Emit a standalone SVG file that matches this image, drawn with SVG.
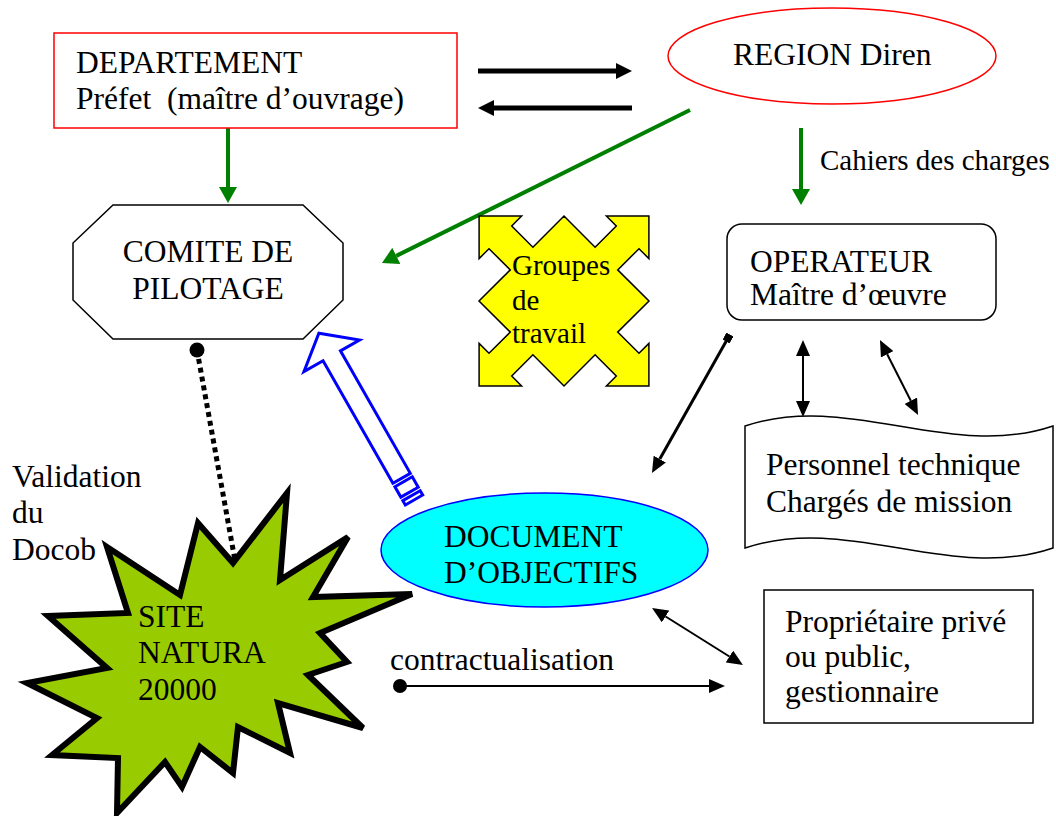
<svg xmlns="http://www.w3.org/2000/svg" width="1056" height="816" viewBox="0 0 1056 816">
<style>
text{font-family:"Liberation Serif",Tinos,"Times New Roman","DejaVu Serif","Noto Serif",serif;font-size:31.5px;fill:#000}
.sm{font-size:29px}
.green{stroke:#008000;stroke-width:4;fill:none}
.thick{stroke:#000;stroke-width:5;fill:none}
.thin{stroke:#000;stroke-width:2;fill:none}
</style>
<defs>
<marker id="gh" markerUnits="userSpaceOnUse" markerWidth="16" markerHeight="18" refX="0" refY="9" orient="auto"><path d="M0,0 L16,9 L0,18 Z" fill="#008000"/></marker>
<marker id="bh" markerUnits="userSpaceOnUse" markerWidth="16" markerHeight="16" refX="0" refY="8" orient="auto"><path d="M0,0 L16,8 L0,16 Z" fill="#000"/></marker>
<marker id="ah" markerUnits="userSpaceOnUse" markerWidth="16" markerHeight="14" refX="0" refY="7" orient="auto-start-reverse"><path d="M0,0 L16,7 L0,14 Z" fill="#000"/></marker>
<marker id="dh" markerUnits="userSpaceOnUse" markerWidth="14" markerHeight="16" refX="0" refY="8" orient="auto"><path d="M0,0 L14,8 L0,16 Z" fill="#000"/></marker>
<marker id="dot" markerUnits="userSpaceOnUse" markerWidth="16" markerHeight="16" refX="8" refY="8" orient="auto"><circle cx="8" cy="8" r="7" fill="#000"/></marker>
<marker id="sq" markerUnits="userSpaceOnUse" markerWidth="8" markerHeight="8" refX="4" refY="4" orient="auto"><rect x="0" y="0" width="8" height="8" fill="#000"/></marker>
</defs>

<g id="connectors">
<path class="thick" d="M478,71 L616,71" marker-end="url(#bh)"/>
<path class="thick" d="M632,108 L494,108" marker-end="url(#bh)"/>
<path class="green" d="M228,128 L228,187" marker-end="url(#gh)"/>
<path class="green" d="M801,128 L801,189" marker-end="url(#gh)"/>
<path class="green" d="M690,110 L396.3,255.9" marker-end="url(#gh)"/>
<path d="M197,350 L235.5,563.2" stroke="#000" stroke-width="5" stroke-dasharray="5 4" fill="none" marker-end="url(#dh)"/>
<circle cx="197" cy="350" r="7.5" fill="#000"/>
<path class="thin" d="M803,356 L803,401" marker-start="url(#ah)" marker-end="url(#ah)"/>
<path class="thin" d="M887.2,354.3 L910.8,400.7" marker-start="url(#ah)" marker-end="url(#ah)"/>
<path d="M728,338 L659.8,459.1" stroke="#000" stroke-width="3" fill="none" marker-start="url(#sq)" marker-end="url(#ah)"/>
<path class="thin" d="M665.6,616.5 L729.4,656.5" marker-start="url(#ah)" marker-end="url(#ah)"/>
<path class="thin" d="M400,686 L709,686" marker-start="url(#dot)" marker-end="url(#ah)"/>
<text class="sm" x="820" y="170">Cahiers des charges</text>
<text x="390" y="670">contractualisation</text>
<text x="12" y="487">Validation</text>
<text x="12" y="523">du</text>
<text x="12" y="560">Docob</text>
</g>

<g id="departement">
<rect x="54" y="33" width="403" height="95" fill="#fff" stroke="#ff0000" stroke-width="1.5"/>
<text x="76" y="73">DEPARTEMENT</text>
<text x="76" y="109" xml:space="preserve">Préfet  (maître d’ouvrage)</text>
</g>

<g id="region">
<ellipse cx="832" cy="56" rx="164" ry="48" fill="#fff" stroke="#ff0000" stroke-width="1.5"/>
<text x="733" y="65">REGION Diren</text>
</g>

<g id="comite">
<polygon points="113,205 303,205 343,243 343,300 303,339 113,339 73,300 73,243" fill="#fff" stroke="#000" stroke-width="1.5"/>
<text x="208" y="262" text-anchor="middle">COMITE DE</text>
<text x="208" y="299" text-anchor="middle">PILOTAGE</text>
</g>

<g id="groupes">
<polygon transform="translate(564,301)" fill="#ffff00" stroke="#000" stroke-width="1.5" points="0,-85 31.1,-53.7 52.3,-75 42.4,-84.9 84.9,-84.9 84.9,-42.4 75,-52.3 53.7,-31.1 85,0 53.7,31.1 75,52.3 84.9,42.4 84.9,84.9 42.4,84.9 52.3,75 31.1,53.7 0,85 -31.1,53.7 -52.3,75 -42.4,84.9 -84.9,84.9 -84.9,42.4 -75,52.3 -53.7,31.1 -85,0 -53.7,-31.1 -75,-52.3 -84.9,-42.4 -84.9,-84.9 -42.4,-84.9 -52.3,-75 -31.1,-53.7"/>
<text class="sm" x="512" y="275">Groupes</text>
<text class="sm" x="512" y="310">de</text>
<text class="sm" x="512" y="343">travail</text>
</g>

<g id="operateur">
<rect x="727" y="224" width="269" height="96" rx="15" ry="15" fill="#fff" stroke="#000" stroke-width="1.5"/>
<text x="750" y="272">OPERATEUR</text>
<text x="750" y="305">Maître d’œuvre</text>
</g>

<g id="personnel">
<path d="M745,426 C848,391 950,461 1053,426 L1053,548 C950,583 848,513 745,548 Z" fill="#fff" stroke="#000" stroke-width="1.5"/>
<text x="766" y="475">Personnel technique</text>
<text x="766" y="512">Chargés de mission</text>
</g>

<g id="fleche-bleue">
<g transform="translate(414,500) rotate(-119.7)" fill="#fff" stroke="#0000ff" stroke-width="3" stroke-linejoin="miter">
<rect x="0" y="-10" width="5" height="20"/>
<rect x="9" y="-10" width="12" height="20"/>
<polygon points="25,-10 166,-10 166,-32 192,0 166,32 166,10 25,10"/>
</g>
</g>

<g id="document">
<ellipse cx="544.5" cy="550" rx="163.5" ry="57" fill="#00ffff" stroke="#0000ff" stroke-width="1.5"/>
<text x="444" y="547">DOCUMENT</text>
<text x="444" y="583">D’OBJECTIFS</text>
</g>

<g id="site">
<polygon points="107,547 180,595 198,523 233,563 287,493 280,580 348,537 313,597 412,594 320,633 347,662 308,675 363,728 278,703 290,753 238,727 233,773 200,747 182,787 165,762 117,813 118,758 52,755 97,718 27,683 107,668 48,616 128,613" fill="#99cc00" stroke="#000" stroke-width="6" stroke-linejoin="miter"/>
<text x="138" y="627">SITE</text>
<text x="138" y="663">NATURA</text>
<text x="138" y="700">20000</text>
</g>

<g id="proprietaire">
<rect x="764" y="590" width="269" height="133" fill="#fff" stroke="#000" stroke-width="1.5"/>
<text x="785" y="632">Propriétaire privé</text>
<text x="785" y="667">ou public,</text>
<text x="785" y="702">gestionnaire</text>
</g>
</svg>
